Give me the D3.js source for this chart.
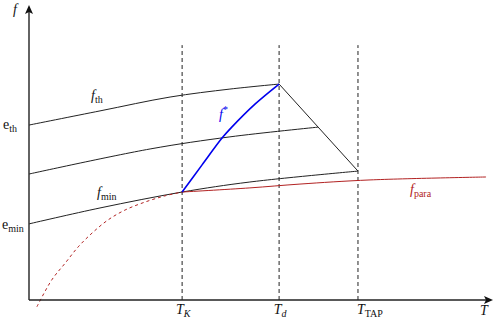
<!DOCTYPE html>
<html>
<head>
<meta charset="utf-8">
<script src="https://cdn.jsdelivr.net/npm/d3@7"></script>
<style>
  body { margin: 0; background: #fff; }
  text { font-family: "Liberation Serif", "DejaVu Serif", serif; }
</style>
</head>
<body>
<div class="svg"></div>
<script>
// data (chart units, T on x, f on y)
var fTh = [[0, 5.93], [1.53, 6.41], [3.04, 6.88], [4.33, 7.15], [5.39, 7.32]];
var fMid = [[0, 4.27], [2.61, 5.12], [4.33, 5.53], [6.23, 5.86]];
var fMin = [[0, 2.58], [1.53, 3.12], [3.30, 3.66], [4.76, 4.0], [7.09, 4.37]];
var fStar = [[3.30, 3.66], [3.73, 4.58], [4.16, 5.49], [4.37, 5.86], [4.87, 6.64], [5.39, 7.32]];
var fDrop = [[5.39, 7.32], [7.09, 4.37]];
var fParaSolid = [[3.30, 3.66], [4.76, 3.80], [5.84, 3.93], [7.35, 4.07], [9.85, 4.17]];
var fParaDashed = [[0.17, -0.23], [0.49, 0.68], [0.78, 1.25], [1.06, 1.80], [1.36, 2.27],
                   [1.70, 2.71], [2.07, 3.05], [2.50, 3.32], [2.93, 3.53], [3.30, 3.66]];
var tMarks = [3.30, 5.39, 7.09];
var tLabels = [["T", "K", true], ["T", "d", true], ["T", "TAP", false]];
var eValues = [5.93, 2.58];
var eLabels = ["th", "min"];

var w = 498, h = 319;
var d3 = window.d3;

var x = d3.scaleLinear().domain([0, 10]).range([29, 493]);
var y = d3.scaleLinear().domain([0, 10]).range([300, 5]);

var svg = d3.select(".svg").append("svg").attr("width", w).attr("height", h);

var line = d3.line()
  .x(function(d) { return x(d[0]); })
  .y(function(d) { return y(d[1]); })
  .curve(d3.curveCatmullRom);

// dashed verticals
svg.selectAll(".vline")
  .data(tMarks)
  .enter()
  .append("line")
  .attr("class", "vline")
  .attr("x1", function(d) { return x(d); })
  .attr("x2", function(d) { return x(d); })
  .attr("y1", y(0))
  .attr("y2", y(8.64))
  .attr("stroke", "#222")
  .attr("stroke-width", 1)
  .attr("stroke-dasharray", "4,3");

// black curves
[fTh, fMid, fMin].forEach(function(s) {
  svg.append("path").attr("d", line(s))
    .attr("fill", "none").attr("stroke", "#222").attr("stroke-width", 1);
});
svg.append("path").attr("d", d3.line().x(function(d) { return x(d[0]); }).y(function(d) { return y(d[1]); })(fDrop))
  .attr("fill", "none").attr("stroke", "#222").attr("stroke-width", 1);

// paramagnetic
svg.append("path").attr("d", line(fParaDashed))
  .attr("fill", "none").attr("stroke", "#b22222").attr("stroke-width", 1)
  .attr("stroke-dasharray", "3,3");
svg.append("path").attr("d", line(fParaSolid))
  .attr("fill", "none").attr("stroke", "#b22222").attr("stroke-width", 1);

// f*
svg.append("path").attr("d", line(fStar))
  .attr("fill", "none").attr("stroke", "#0000ee").attr("stroke-width", 1.6);

// axes
var ax = svg.append("g").attr("stroke", "#222").attr("stroke-width", 1.4);
ax.append("line").attr("x1", x(0)).attr("x2", x(10) - 6).attr("y1", y(0)).attr("y2", y(0));
ax.append("line").attr("x1", x(0)).attr("x2", x(0)).attr("y1", y(0)).attr("y2", y(10) + 6);
svg.append("path")
  .attr("d", "M" + x(10) + "," + y(0) + "l-9,-4 l2,4 l-2,4z").attr("fill", "#111");
svg.append("path")
  .attr("d", "M" + x(0) + "," + y(10) + "l-4,9 l4,-2 l4,2z").attr("fill", "#111");

// labels
function label(px, py, main, sub, opts) {
  opts = opts || {};
  var t = svg.append("text").attr("x", px).attr("y", py)
    .attr("font-size", 14).attr("fill", opts.color || "#111")
    .attr("text-anchor", opts.anchor || "start");
  t.append("tspan").text(main).attr("font-style", opts.upright ? "normal" : "italic");
  if (sub) {
    t.append("tspan").text(sub)
      .attr("font-size", 10)
      .attr("font-style", opts.subItalic ? "italic" : "normal")
      .attr("dy", opts.sup ? -6 : (opts.dy || 3));
  }
  return t;
}

label(13, 14, "f", null);
label(3, y(eValues[0]) + 4, "e", eLabels[0], { upright: true });
label(2, y(eValues[1]) + 5, "e", eLabels[1], { upright: true });

tMarks.forEach(function(d, i) {
  var l = tLabels[i];
  label(x(d) + (l[1] === "TAP" ? 12 : 1), 314, l[0], l[1], { anchor: "middle", subItalic: l[2], dy: 2.5 });
});
label(480, 315, "T", null);

label(91, 100, "f", "th");
label(97, 197, "f", "min");
label(219, 119, "f", "*", { color: "#0000ee", sup: true });
label(410, 194, "f", "para", { color: "#b22222" });
</script>
</body>
</html>
